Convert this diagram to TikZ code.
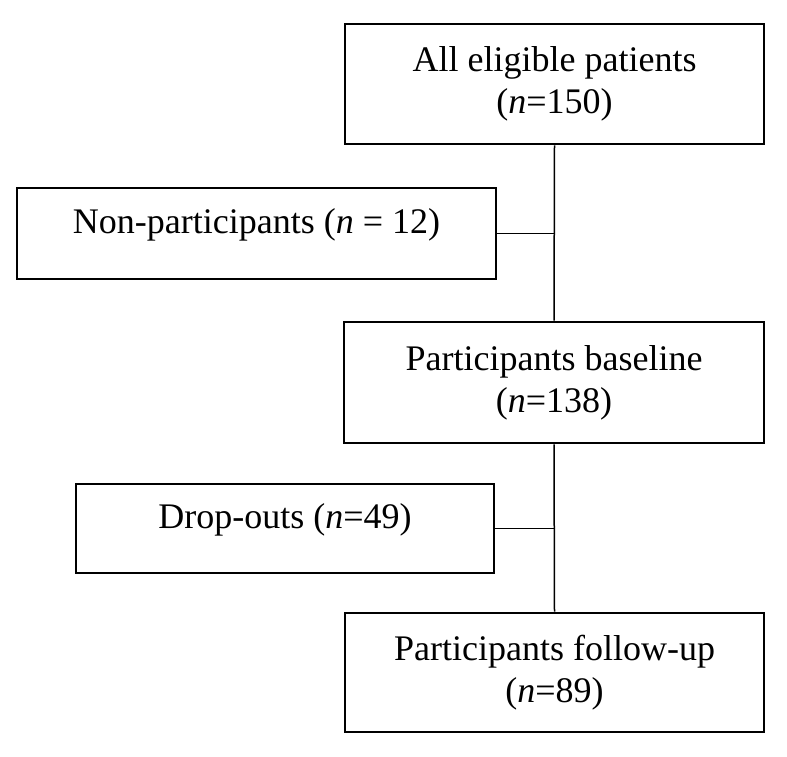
\documentclass[tikz,border=0pt]{standalone}
\usepackage{fontspec}
\setmainfont{Liberation Serif}
\begin{document}
\begin{tikzpicture}[x=1pt,y=-1pt,
  box/.style={draw=black, line width=2.7pt, rectangle, align=center, inner sep=0pt,
    font=\fontsize{36}{42}\selectfont},
  onebox/.style={box, text height=24pt, text depth=24pt},
  conn/.style={draw=black, line width=1.5pt}]
\useasboundingbox[fill=white] (0,0) rectangle (787,757);
\node[box, minimum width=419pt, minimum height=120pt] (b1) at (554.5,84)
  {All eligible patients\\(\textit{n}=150)};
\node[onebox, minimum width=479pt, minimum height=91pt] (b2) at (256.5,233.5)
  {Non-participants (\textit{n} = 12)};
\node[box, minimum width=420pt, minimum height=121pt] (b3) at (554,382.5)
  {Participants baseline\\(\textit{n}=138)};
\node[onebox, minimum width=418pt, minimum height=89pt] (b4) at (285,528.5)
  {Drop-outs (\textit{n}=49)};
\node[box, minimum width=419pt, minimum height=119pt] (b5) at (554.5,672.5)
  {Participants follow-up\\(\textit{n}=89)};
\coordinate (j1) at (b2.east -| b1.south);
\coordinate (j2) at (b4.east -| b3.south);
\draw[conn] (b1.south) -- (b3.north);
\draw[conn] (b3.south) -- (b5.north);
\draw[conn] (b2.east) -- (j1);
\draw[conn] (b4.east) -- (j2);
\end{tikzpicture}
\end{document}
